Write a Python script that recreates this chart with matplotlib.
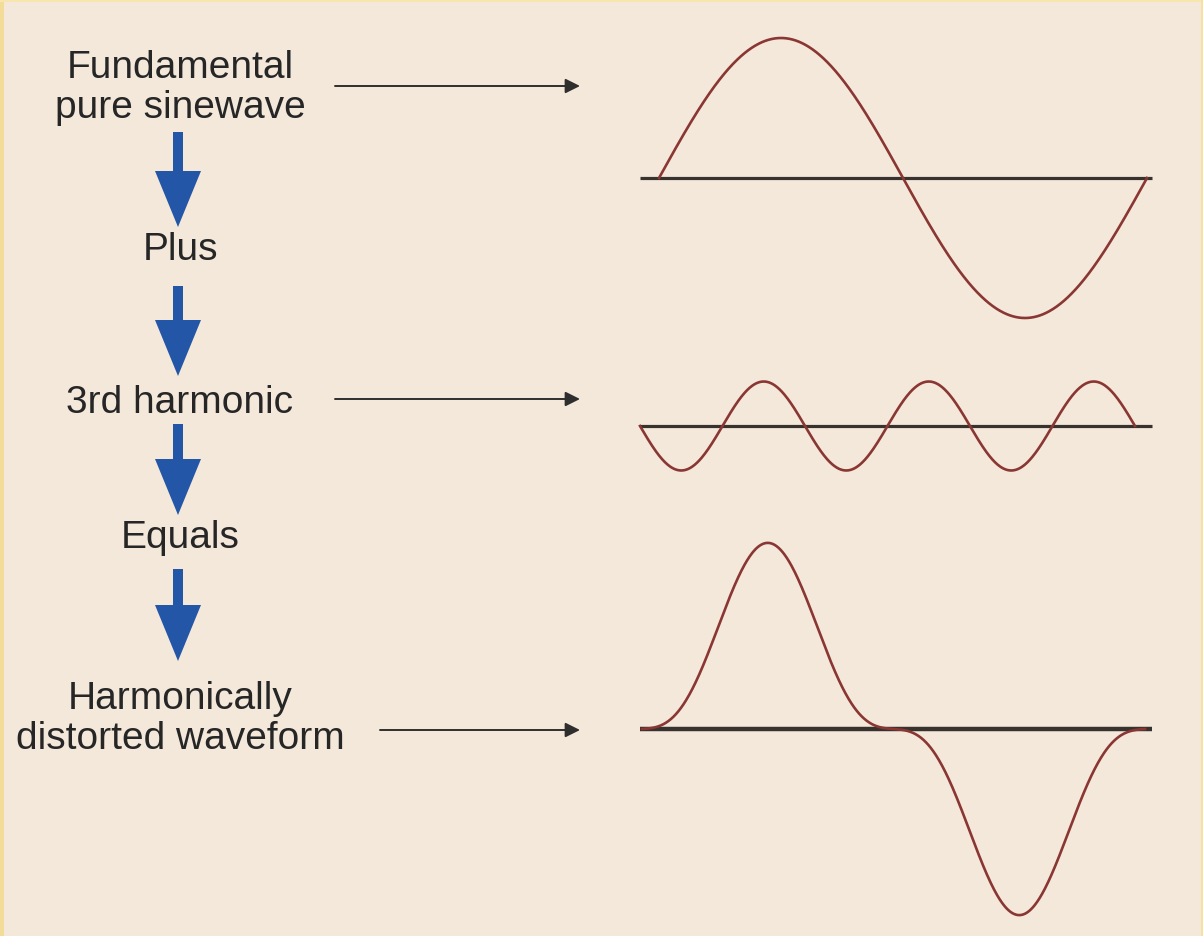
import numpy as np
import matplotlib
matplotlib.use("Agg")
import matplotlib.pyplot as plt
from matplotlib.patches import FancyArrow, Rectangle

# ---- data ----
labels = ["Fundamental\npure sinewave", "Plus", "3rd harmonic", "Equals",
          "Harmonically\ndistorted waveform"]
harmonic_orders = [1, 3]
harmonic_amplitudes = [1.0, -0.32]   # 3rd harmonic starts downward, about 1/3 size

BG = "#F4E8DB"
CURVE = "#8A3733"
AXIS = "#38322E"
TEXT = "#262626"
BLUE = "#2456A8"

W, H = 1203, 937
fig = plt.figure(figsize=(W / 100, H / 100), dpi=100)
fig.patch.set_facecolor(BG)

# layout axes in pixel coordinates
lay = fig.add_axes([0, 0, 1, 1])
lay.set_xlim(0, W)
lay.set_ylim(H, 0)
lay.axis("off")
lay.set_facecolor(BG)

# thin yellow frame
lay.add_patch(Rectangle((0, 0), 4, H, color="#F2DC98", lw=0))
lay.add_patch(Rectangle((0, 0), W, 2.5, color="#F7E6AE", lw=0))
lay.add_patch(Rectangle((W - 2.5, 0), 2.5, H, color="#F5E2A0", lw=0))

font = dict(family=["Liberation Sans", "DejaVu Sans"], fontsize=28, color=TEXT,
            ha="center", va="center", linespacing=1.13)
label_y = [88, 250, 403, 538, 719]
for t, y in zip(labels, label_y):
    lay.text(180, y, t, **font)

# blue down arrows
for y0, y1 in [(133, 228), (287, 377), (425, 516), (570, 662)]:
    lay.add_patch(FancyArrow(178, y0, 0, y1 - y0, width=10, head_width=46,
                             head_length=56, length_includes_head=True,
                             color=BLUE, lw=0))

# thin horizontal pointer arrows
for x0, x1, y in [(335, 580, 87), (335, 580, 400), (380, 580, 731)]:
    lay.annotate("", xy=(x1, y), xytext=(x0, y),
                 arrowprops=dict(arrowstyle="-|>", color="#2E2E2E", lw=1.4,
                                 mutation_scale=22, shrinkA=0, shrinkB=0))

theta = np.linspace(0, 2 * np.pi, 800)
fundamental = harmonic_amplitudes[0] * np.sin(harmonic_orders[0] * theta)
third = harmonic_amplitudes[1] * np.sin(harmonic_orders[1] * theta)
distorted = fundamental + third


def wave_axes(x_start, x_end, y_center, unit, base_l, base_r, top, bottom):
    """Create axes where theta 0..2pi maps x_start..x_end px, 1 unit = unit px."""
    left_px, right_px = base_l - 15, base_r + 15
    ax = fig.add_axes([left_px / W, 1 - bottom / H,
                       (right_px - left_px) / W, (bottom - top) / H])
    sc = (x_end - x_start) / (2 * np.pi)
    ax.set_xlim((left_px - x_start) / sc, (right_px - x_start) / sc)
    ax.set_ylim((y_center - bottom) / unit, (y_center - top) / unit)
    ax.axis("off")
    ax.patch.set_alpha(0)
    return ax, sc


# fundamental
ax1, sc1 = wave_axes(659, 1147, 179, 140, 640, 1152, 20, 345)
ax1.plot([(640 - 659) / sc1, (1152 - 659) / sc1], [0, 0], color=AXIS, lw=2.3,
         solid_capstyle="butt")
ax1.plot(theta, fundamental, color=CURVE, lw=1.9)

# 3rd harmonic
ax2, sc2 = wave_axes(640, 1135, 427, 139, 640, 1152, 365, 490)
ax2.plot([(640 - 640) / sc2, (1152 - 640) / sc2], [0, 0], color=AXIS, lw=2.3,
         solid_capstyle="butt")
ax2.plot(theta, third, color=CURVE, lw=1.9)

# distorted
ax3, sc3 = wave_axes(642, 1145, 730, 141, 640, 1152, 520, 925)
ax3.plot([(640 - 642) / sc3, (1152 - 642) / sc3], [0, 0], color=AXIS, lw=3.2,
         solid_capstyle="butt")
ax3.plot(theta, distorted, color=CURVE, lw=1.9)

fig.savefig("out.png", dpi=100, facecolor=BG)
